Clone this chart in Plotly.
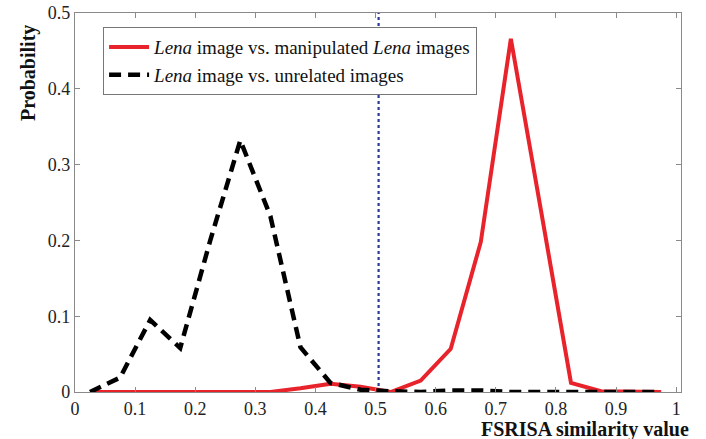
import plotly.graph_objects as go

x_vals = [0.025, 0.075, 0.125, 0.175, 0.225, 0.275, 0.325, 0.375, 0.425, 0.475,
          0.525, 0.575, 0.625, 0.675, 0.725, 0.775, 0.825, 0.875, 0.925, 0.975]
manipulated = [0.0, 0.0, 0.0, 0.0, 0.0, 0.0, 0.0, 0.005, 0.011, 0.007,
               0.0, 0.015, 0.057, 0.198, 0.466, 0.24, 0.012, 0.001, 0.0, 0.0]
unrelated = [0.0, 0.019, 0.095, 0.058, 0.2, 0.332, 0.232, 0.059, 0.012, 0.003,
             0.001, 0.0, 0.002, 0.002, 0.0, 0.0, 0.0, 0.0, 0.0, 0.0]
threshold = 0.505
x_ticks = [0, 0.1, 0.2, 0.3, 0.4, 0.5, 0.6, 0.7, 0.8, 0.9, 1]
x_labels = ["0", "0.1", "0.2", "0.3", "0.4", "0.5", "0.6", "0.7", "0.8", "0.9", "1"]
y_ticks = [0, 0.1, 0.2, 0.3, 0.4, 0.5]
y_labels = ["0", "0.1", "0.2", "0.3", "0.4", "0.5"]

FONT = "Liberation Serif, Times New Roman, serif"

fig = go.Figure()
fig.add_trace(go.Scatter(x=[threshold, threshold], y=[0, 0.5], mode="lines",
                         line=dict(color="#2a3a9a", width=2.2, dash="dot"),
                         showlegend=False, hoverinfo="skip"))
fig.add_trace(go.Scatter(x=x_vals, y=manipulated, mode="lines",
                         name="<i>Lena</i> image vs. manipulated <i>Lena</i> images",
                         line=dict(color="#e8232b", width=4)))
fig.add_trace(go.Scatter(x=x_vals, y=unrelated, mode="lines",
                         name="<i>Lena</i> image vs. unrelated images",
                         line=dict(color="black", width=4.5, dash="12px,7px")))

axis_common = dict(showgrid=False, zeroline=False, showline=True, linecolor="#8a8a8a",
                   linewidth=1.2, mirror="ticks", ticks="inside", ticklen=5,
                   tickcolor="#8a8a8a", automargin=False,
                   tickfont=dict(family=FONT, size=18, color="#222"))

fig.update_xaxes(range=[0, 1.008], tickvals=x_ticks, ticktext=x_labels, **axis_common)
fig.update_yaxes(range=[0, 0.5], tickvals=y_ticks, ticktext=y_labels, **axis_common)

fig.add_annotation(text="<b>Probability</b>", xref="paper", yref="paper",
                   x=0, y=1, xanchor="center", yanchor="top", xshift=-47, yshift=-10,
                   textangle=-90, showarrow=False,
                   font=dict(family=FONT, size=20, color="#111"))
fig.add_annotation(text="<b>FSRISA similarity value</b>", xref="paper", yref="paper",
                   x=1.017, y=0, xanchor="right", yanchor="top", yshift=-24, showarrow=False,
                   font=dict(family=FONT, size=20, color="#111"))

fig.update_layout(
    width=706, height=439,
    margin=dict(l=75, r=25, t=13, b=47),
    plot_bgcolor="white", paper_bgcolor="white",
    font=dict(family=FONT),
    legend=dict(x=0.046, y=0.963, xanchor="left", yanchor="top",
                bgcolor="white", bordercolor="#777", borderwidth=1.2,
                font=dict(family=FONT, size=19, color="#111"),
                tracegroupgap=0, itemwidth=40),
)

fig.write_html("out.html", config={"displayModeBar": False},
               post_script="document.body.style.margin='0';document.body.style.overflow='hidden';")
